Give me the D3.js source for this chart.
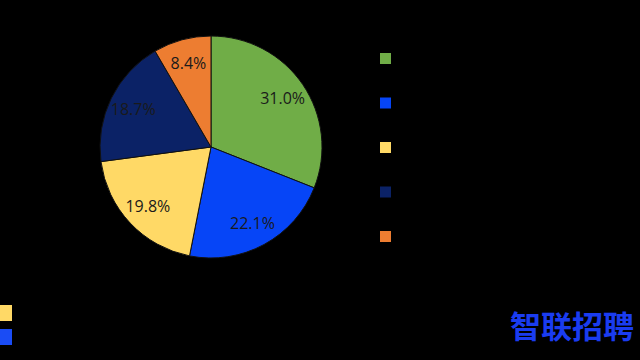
<!DOCTYPE html>
<html>
<head>
<meta charset="utf-8">
<script src="https://cdn.jsdelivr.net/npm/d3@7"></script>
<style>
  body { margin: 0; background: #000; }
  svg { display: block; }
</style>
</head>
<body>
<div id="chart"></div>
<script>
// slice data, clockwise from 12 o'clock
const categories = ["类别一", "类别二", "类别三", "类别四", "类别五"];
const shares = [31.0, 22.1, 19.8, 18.7, 8.4];
const colors = ["#70ad47", "#0645f7", "#ffd966", "#0b2266", "#ed7d31"];

// clipped legend of the next chart at bottom-left
const bottomKeys = ["#ffd966", "#1a4cf5"];

const width = 640, height = 360;
const cx = 211, cy = 147, radius = 111;

const svg = d3.select("#chart")
    .append("svg")
    .attr("width", width)
    .attr("height", height);

svg.append("rect")
    .attr("width", width)
    .attr("height", height)
    .attr("fill", "#000");

const pie = d3.pie().sort(null).value(d => d);
const arc = d3.arc().innerRadius(0).outerRadius(radius);
const labelArc = d3.arc().innerRadius(radius * 0.78).outerRadius(radius * 0.78);

const g = svg.append("g").attr("transform", `translate(${cx},${cy})`);

const slices = pie(shares);

g.selectAll("path")
    .data(slices)
    .enter()
    .append("path")
    .attr("d", arc)
    .attr("fill", (d, i) => colors[i])
    .attr("stroke", "#111")
    .attr("stroke-width", 1);

g.selectAll("text")
    .data(slices)
    .enter()
    .append("text")
    .attr("transform", d => `translate(${labelArc.centroid(d)})`)
    .attr("text-anchor", "middle")
    .attr("dy", "0.36em")
    .attr("font-family", "'Open Sans', sans-serif")
    .attr("font-size", 16)
    .attr("fill", "#1a1a1a")
    .text(d => d.data.toFixed(1) + "%");

// legend (labels are black on the black background)
const legendY = d3.scalePoint()
    .domain(categories)
    .range([58, 236]);

const legend = svg.append("g")
    .selectAll("g")
    .data(categories)
    .enter()
    .append("g")
    .attr("transform", d => `translate(380,${legendY(d)})`);

legend.append("rect")
    .attr("x", 0)
    .attr("y", -5)
    .attr("width", 11)
    .attr("height", 11)
    .attr("fill", (d, i) => colors[i]);

legend.append("text")
    .attr("x", 20)
    .attr("dy", "0.35em")
    .attr("font-family", "'Noto Sans CJK SC', sans-serif")
    .attr("font-size", 13)
    .attr("fill", "#000")
    .text(d => d);

// partial legend keys, cut by the left edge
svg.append("g")
    .selectAll("rect")
    .data(bottomKeys)
    .enter()
    .append("rect")
    .attr("x", -5)
    .attr("y", (d, i) => 305 + i * 24)
    .attr("width", 17)
    .attr("height", 16)
    .attr("fill", d => d);

// logo
svg.append("text")
    .attr("x", 634)
    .attr("y", 338)
    .attr("text-anchor", "end")
    .attr("font-family", "'Noto Sans CJK SC', sans-serif")
    .attr("font-weight", 700)
    .attr("font-size", 31)
    .attr("fill", "#1a3cf0")
    .text("智联招聘");
</script>
</body>
</html>
